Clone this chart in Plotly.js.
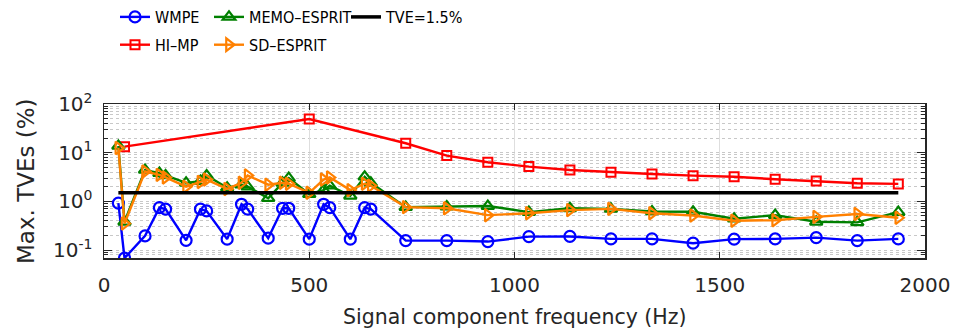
<!DOCTYPE html>
<html>
<head>
<meta charset="utf-8">
<script src="https://cdn.plot.ly/plotly-3.0.1.min.js"></script>
<style>html,body{margin:0;padding:0;background:#fff;}#chart{width:954px;height:329px;}</style>
</head>
<body>
<div id="chart"></div>
<script>
// Frequencies (Hz)
const freqLow = [35,50,100,135,150,200,235,250,300,335,350,400,435,450,500,535,550,600,635,650];
const freqHigh = [735,835,935,1035,1135,1235,1335,1435,1535,1635,1735,1835,1935];
const freqAll = freqLow.concat(freqHigh);

// WMPE
const wmpeLow = [0.92,0.068,0.195,0.74,0.69,0.158,0.69,0.635,0.167,0.87,0.69,0.175,0.72,0.72,0.167,0.87,0.74,0.167,0.74,0.69];
const wmpeHigh = [0.156,0.156,0.149,0.188,0.19,0.169,0.169,0.138,0.167,0.169,0.18,0.156,0.169];

// HI-MP
const himpFreq = [50,500,735,835,935,1035,1135,1235,1335,1435,1535,1635,1735,1835,1935];
const himpVals = [13.3,49,15.6,8.7,6.35,5.17,4.4,3.95,3.65,3.37,3.21,2.84,2.62,2.36,2.28];

// MEMO-ESPRIT
const memoLow = [13.7,0.38,4.4,3.8,3.4,2.4,2.6,3.4,1.9,2.2,2.0,1.16,2.4,3.0,1.4,1.7,2.1,1.3,3.2,2.4];
const memoHigh = [0.76,0.78,0.8,0.6,0.72,0.7,0.62,0.61,0.44,0.52,0.38,0.37,0.6];

// SD-ESPRIT
const sdLow = [12.5,0.35,4.1,3.5,3.1,2.0,2.5,2.8,1.8,2.4,3.4,2.2,2.4,2.3,1.5,2.8,3.1,1.7,2.3,2.1];
const sdHigh = [0.76,0.72,0.52,0.57,0.66,0.7,0.57,0.51,0.4,0.41,0.48,0.55,0.46];

// TVE threshold
const tveFreq = [35,1935];
const tveVals = [1.5,1.5];

// Axis ticks and titles
const yTickVals = [0.1,1,10,100];
const yTickText = ['10<sup>-1</sup>','10<sup>0</sup>','10<sup>1</sup>','10<sup>2</sup>'];
const xTickVals = [0,500,1000,1500,2000];
const xTitle = 'Signal component frequency (Hz)';
const yTitle = 'Max. TVEs (%)';

const axFont = {family:'DejaVu Sans, sans-serif', size:20, color:'#262626'};
const legFont = {family:'DejaVu Sans Condensed, DejaVu Sans, sans-serif', size:16, color:'#000'};

const traces = [
  {x:freqAll, y:wmpeLow.concat(wmpeHigh), name:'WMPE', mode:'lines+markers', legend:'legend', legendgroup:'a',
   line:{color:'#0000ff', width:2.4}, marker:{symbol:'circle-open', size:11, color:'#0000ff', line:{width:2.2}}},
  {x:himpFreq, y:himpVals, name:'HI\u2013MP', mode:'lines+markers', legend:'legend', legendgroup:'b',
   line:{color:'#ff0000', width:2.4}, marker:{symbol:'square-open', size:9, color:'#ff0000', line:{width:2}}},
  {x:freqAll, y:memoLow.concat(memoHigh), name:'MEMO\u2013ESPRIT', mode:'lines+markers', legend:'legend2', legendgroup:'c',
   line:{color:'#008000', width:2.4}, marker:{symbol:'triangle-up-open', size:11, color:'#008000', line:{width:2.2}}},
  {x:freqAll, y:sdLow.concat(sdHigh), name:'SD\u2013ESPRIT', mode:'lines+markers', legend:'legend2', legendgroup:'d',
   line:{color:'#ff8000', width:2.4}, marker:{symbol:'triangle-right-open', size:11, color:'#ff8000', line:{width:2.2}}},
  {x:tveFreq, y:tveVals, name:'TVE=1.5%', mode:'lines', legend:'legend3', legendgroup:'e',
   line:{color:'#000000', width:3.5}}
];

const legBase = {orientation:'v', xref:'container', yref:'container', xanchor:'left', yanchor:'top',
  bgcolor:'rgba(0,0,0,0)', font:legFont, tracegroupgap:4, itemwidth:30};

const layout = {
  width:954, height:329,
  margin:{l:104, r:29, t:104, b:71, autoexpand:false},
  paper_bgcolor:'#fff', plot_bgcolor:'#fff',
  showlegend:true,
  legend:Object.assign({}, legBase, {x:115/954, y:1}),
  legend2:Object.assign({}, legBase, {x:209/954, y:1}),
  legend3:Object.assign({}, legBase, {x:346/954, y:1}),
  xaxis:{range:[0,2000], tickvals:xTickVals, ticks:'inside', ticklen:6, tickcolor:'#262626', ticklabelstandoff:8,
    showline:true, linecolor:'#262626', linewidth:1.5, mirror:'ticks', showgrid:true, gridcolor:'#dedede', gridwidth:1,
    zeroline:false, tickfont:axFont},
  yaxis:{type:'log', range:[Math.log10(0.0685),2], tickmode:'array', tickvals:yTickVals, ticktext:yTickText,
    ticks:'inside', ticklen:8, tickcolor:'#262626', ticklabelstandoff:6,
    showline:true, linecolor:'#262626', linewidth:1.5, mirror:'ticks', showgrid:true, gridcolor:'#c8c8c8', griddash:'dot',
    zeroline:false, tickfont:axFont,
    minor:{tickmode:'linear', dtick:'D1', ticks:'inside', ticklen:4, tickcolor:'#262626', showgrid:true, gridcolor:'#c8c8c8', griddash:'dot', gridwidth:1}},
  annotations:[
    {text:xTitle, xref:'paper', yref:'paper', x:0.5, y:-(317-258)/154, xanchor:'center', yanchor:'middle',
     showarrow:false, font:Object.assign({}, axFont, {size:20.5})},
    {text:yTitle, xref:'paper', yref:'paper', x:-(104-26)/821, y:0.5, xanchor:'center', yanchor:'middle',
     textangle:-90, showarrow:false, font:Object.assign({}, axFont, {size:23})}
  ]
};

Plotly.newPlot('chart', traces, layout, {displayModeBar:false, staticPlot:true});
</script>
</body>
</html>
